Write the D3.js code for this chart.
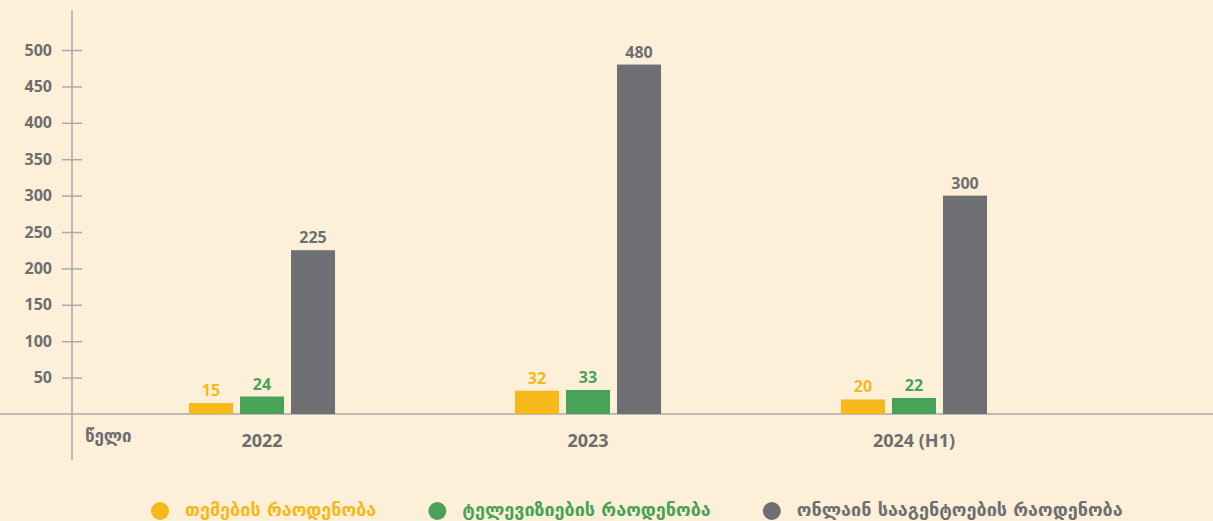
<!DOCTYPE html>
<html>
<head>
<meta charset="utf-8">
<script src="https://cdn.jsdelivr.net/npm/d3@7"></script>
<style>
  body { margin: 0; background: #fef0d8; }
  svg { display: block; }
</style>
</head>
<body>
<div id="chart"></div>
<script>
var years = ['2022', '2023', '2024 (H1)']
var seriesNames = ['თემების რაოდენობა', 'ტელევიზიების რაოდენობა', 'ონლაინ სააგენტოების რაოდენობა']
var topics = [15, 32, 20]
var tvs = [24, 33, 22]
var online = [225, 480, 300]
var yTicks = [50, 100, 150, 200, 250, 300, 350, 400, 450, 500]
var xTitle = 'წელი'

var colors = ['#f7b81b', '#48a257', '#6e6f73']
var textGray = '#6d6e71'

var w = 1213, h = 521

var svg = d3.select('#chart')
  .append('svg')
  .attr('width', w)
  .attr('height', h)

svg.append('rect')
  .attr('width', w)
  .attr('height', h)
  .attr('fill', '#fef0d8')

var x0 = d3.scaleBand()
  .domain(years)
  .range([26, 1150])
  .paddingInner(0.552)
  .paddingOuter(0.5)

var x1 = d3.scaleBand()
  .domain(d3.range(seriesNames.length))
  .range([0, x0.bandwidth()])
  .paddingInner(0.137)

var y = d3.scaleLinear()
  .domain([0, 500])
  .range([414, 50])

var axisX = 72

// y axis line and ticks
svg.append('line')
  .attr('x1', axisX).attr('x2', axisX)
  .attr('y1', 10).attr('y2', 460)
  .attr('stroke', '#a9a9a9')
  .attr('stroke-width', 1.5)

var yAxis = svg.append('g')
  .attr('transform', 'translate(' + axisX + ',0)')
  .call(d3.axisLeft(y).tickValues(yTicks).tickSize(10).tickPadding(10))

yAxis.select('.domain').remove()
yAxis.selectAll('.tick line')
  .attr('x1', 10)
  .attr('stroke', '#a9a9a9')
  .attr('stroke-width', 1.5)
yAxis.selectAll('.tick text')
  .attr('fill', textGray)
  .style('font-family', '"Open Sans", sans-serif')
  .style('font-weight', 'bold')
  .style('font-size', '16px')

// x axis line
svg.append('line')
  .attr('x1', 0).attr('x2', w)
  .attr('y1', y(0)).attr('y2', y(0))
  .attr('stroke', '#a9a9a9')
  .attr('stroke-width', 1.5)

svg.append('text')
  .attr('x', 85)
  .attr('y', 442)
  .attr('fill', textGray)
  .style('font-family', '"DejaVu Sans", sans-serif')
  .style('font-weight', 'bold')
  .style('font-size', '17px')
  .text(xTitle)

svg.selectAll('.year')
  .data(years)
  .enter().append('text')
  .attr('class', 'year')
  .attr('x', function(d) { return x0(d) + x0.bandwidth() / 2 })
  .attr('y', 447)
  .attr('text-anchor', 'middle')
  .attr('fill', textGray)
  .style('font-family', '"Open Sans", sans-serif')
  .style('font-weight', 'bold')
  .style('font-size', '18px')
  .text(function(d) { return d })

// bars
var series = [topics, tvs, online]
var groups = svg.selectAll('.group')
  .data(years)
  .enter().append('g')
  .attr('class', 'group')
  .attr('transform', function(d) { return 'translate(' + x0(d) + ',0)' })

groups.selectAll('rect')
  .data(function(d, i) { return series.map(function(s, j) { return { s: j, v: s[i] } }) })
  .enter().append('rect')
  .attr('x', function(d) { return x1(d.s) })
  .attr('width', x1.bandwidth())
  .attr('y', function(d) { return y(d.v) })
  .attr('height', function(d) { return y(0) - y(d.v) })
  .attr('fill', function(d) { return colors[d.s] })

groups.selectAll('.val')
  .data(function(d, i) { return series.map(function(s, j) { return { s: j, v: s[i] } }) })
  .enter().append('text')
  .attr('class', 'val')
  .attr('x', function(d) { return x1(d.s) + x1.bandwidth() / 2 })
  .attr('y', function(d) { return y(d.v) - 7 })
  .attr('text-anchor', 'middle')
  .attr('fill', function(d) { return d.s == 2 ? textGray : colors[d.s] })
  .style('font-family', '"Open Sans", sans-serif')
  .style('font-weight', 'bold')
  .style('font-size', '16px')
  .text(function(d) { return d.v })

// legend
var legend = svg.append('g')
var lx = 151
seriesNames.forEach(function(name, i) {
  legend.append('circle')
    .attr('cx', lx + 9)
    .attr('cy', 511)
    .attr('r', 9)
    .attr('fill', colors[i])
  var t = legend.append('text')
    .attr('x', lx + 34)
    .attr('y', 516)
    .attr('fill', colors[i])
    .style('font-family', '"DejaVu Sans", sans-serif')
    .style('font-weight', 'bold')
    .style('font-size', '18px')
    .text(name)
  lx = lx + 34 + t.node().getComputedTextLength() + 52
})
</script>
</body>
</html>
